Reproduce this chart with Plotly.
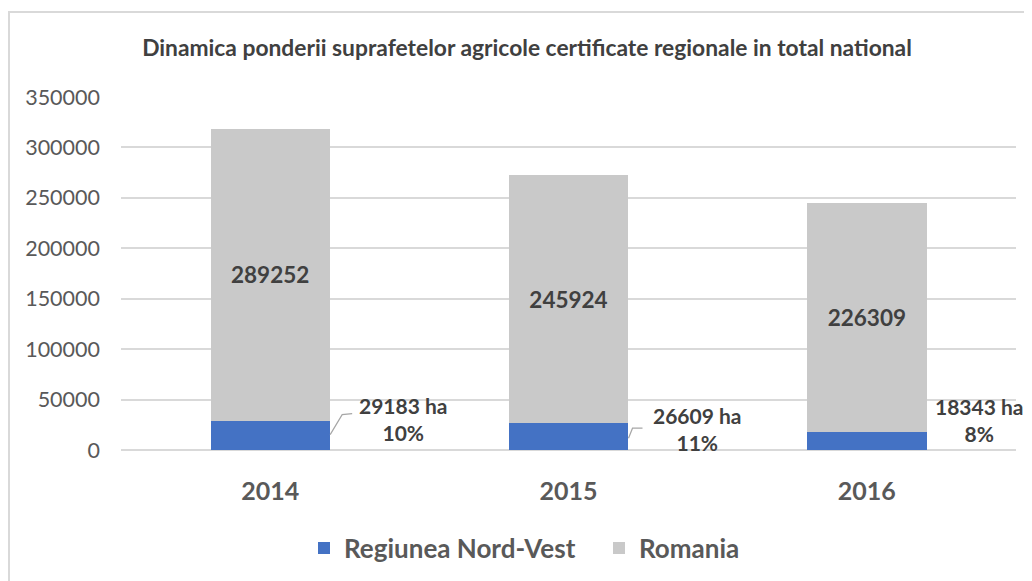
import plotly.graph_objects as go

years = ["2014", "2015", "2016"]
nord_vest = [29183, 26609, 18343]
romania = [289252, 245924, 226309]
y_ticks = [0, 50000, 100000, 150000, 200000, 250000, 300000, 350000]

title_text = "Dinamica ponderii suprafetelor agricole certificate regionale in total national"

BLUE = "#4472C4"
GREY = "#C9C9C9"
TXT = "#595959"
DARK = "#404040"
FONT = "Lato"

# page body adds an 8px offset; figure coords = screen coords - 8
W, H = 1024, 581
ML, MT = 113, 89
MR = W - 1008
MB = H - 442

fig = go.Figure()
fig.add_trace(go.Bar(
    x=years, y=nord_vest, name="Regiunea Nord-Vest",
    marker=dict(color=BLUE, line=dict(width=0)),
))
fig.add_trace(go.Bar(
    x=years, y=romania, name="Romania",
    marker=dict(color=GREY, line=dict(width=0)),
    text=[str(v) for v in romania], textposition="inside",
    insidetextanchor="middle",
    textfont=dict(family=FONT, size=22.5, color=DARK, weight="bold"),
))

# labels for the regional bars (value + share of national)
label_xshift = [133, 129, 113]
label_yshift = [2, -6, 12]
for i, (yr, nv, ro) in enumerate(zip(years, nord_vest, romania)):
    pct = round(nv / ro * 100)
    fig.add_annotation(
        x=i, y=nv, xref="x", yref="y",
        text=f"<b>{nv} ha</b><br><b>{pct}%</b>",
        showarrow=False, xshift=label_xshift[i], yshift=label_yshift[i],
        font=dict(family=FONT, size=21, color=DARK),
        align="center",
    )

# leader lines (pixel paths anchored at bar tops)
leader_paths = [
    "M 60 -14 L 72 6 L 82 7",
    "M 60 -15 L 64 -5 L 74 -5",
]
for i, p in enumerate(leader_paths):
    fig.add_shape(
        type="path", path=p, xref="x", yref="y",
        xsizemode="pixel", ysizemode="pixel",
        xanchor=i, yanchor=nord_vest[i],
        line=dict(color="#A6A6A6", width=1.2),
    )

pw = W - ML - MR
ph = H - MT - MB
# outer chart frame
fig.add_shape(
    type="rect", xref="paper", yref="paper",
    x0=(1 - ML) / pw, x1=(W + 20 - ML) / pw,
    y0=(H - MB - (H + 20)) / ph, y1=(H - MB - 4) / ph,
    line=dict(color="#D9D9D9", width=2), fillcolor="rgba(0,0,0,0)",
    layer="below",
)

fig.update_layout(
    width=W, height=H,
    margin=dict(l=ML, r=MR, t=MT, b=MB, autoexpand=False),
    barmode="stack", bargap=0.6,
    plot_bgcolor="white", paper_bgcolor="white",
    title=dict(
        text=title_text, x=(519 - ML) / pw, xref="paper", xanchor="center",
        y=1 - 40 / H, yanchor="middle",
        font=dict(family=FONT, size=22.8, color=DARK, weight="bold"),
    ),
    xaxis=dict(
        type="category", range=[-0.5, len(years) - 0.5],
        showgrid=False, showline=False, ticks="",
        tickfont=dict(family=FONT, size=25, color=TXT, weight="bold"),
        ticklabelstandoff=24,
    ),
    yaxis=dict(
        range=[0, 350000], tickvals=y_ticks,
        ticktext=[str(v) for v in y_ticks],
        showgrid=True, gridcolor="#D9D9D9", gridwidth=1.5,
        zeroline=True, zerolinecolor="#D9D9D9", zerolinewidth=1.5,
        showline=False, ticks="",
        tickfont=dict(family=FONT, size=21.5, color=TXT),
        ticklabelstandoff=20,
    ),
    legend=dict(
        orientation="h", x=(591 - ML) / pw, xanchor="center",
        y=(H - MB - 540) / ph, yanchor="middle",
        font=dict(family=FONT, size=26, color=TXT, weight="bold"),
        itemsizing="constant", traceorder="normal",
        entrywidth=250, entrywidthmode="pixels",
    ),
    showlegend=True,
    uniformtext=dict(mode=False),
)

fig.write_html("out.html")
